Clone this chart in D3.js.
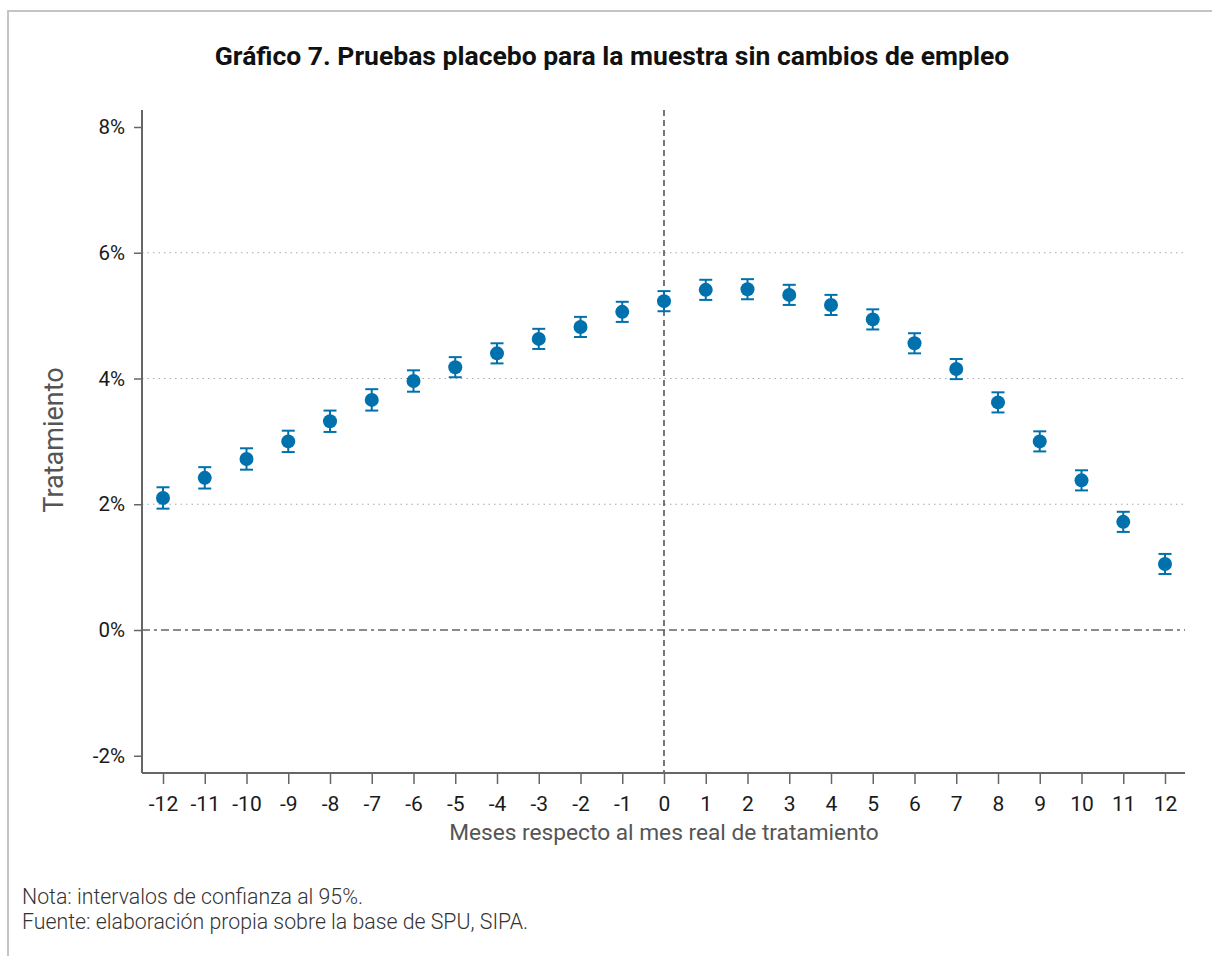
<!DOCTYPE html>
<html>
<head>
<meta charset="utf-8">
<style>
  body { margin: 0; background: #fff; }
  svg text { font-family: Roboto, sans-serif; }
</style>
</head>
<body>
<div id="chart"></div>
<script src="https://d3js.org/d3.v7.min.js"></script>
<script>
// months relative to the real treatment month
var months = [-12, -11, -10, -9, -8, -7, -6, -5, -4, -3, -2, -1, 0, 1, 2, 3, 4, 5, 6, 7, 8, 9, 10, 11, 12];
// point estimates (%)
var estimates = [2.10, 2.42, 2.72, 3.00, 3.32, 3.66, 3.96, 4.18, 4.40, 4.63, 4.82, 5.06, 5.23, 5.41, 5.42, 5.33, 5.17, 4.94, 4.56, 4.15, 3.62, 3.00, 2.38, 1.72, 1.05];
// 95% CI half-width (%)
var halfCI = [0.17, 0.17, 0.17, 0.17, 0.17, 0.17, 0.17, 0.16, 0.16, 0.16, 0.16, 0.16, 0.16, 0.16, 0.16, 0.16, 0.16, 0.16, 0.16, 0.16, 0.16, 0.16, 0.16, 0.16, 0.16];
var yTicks = [-2, 0, 2, 4, 6, 8];
var gridTicks = [2, 4, 6];

var W = 1212, H = 956;
var svg = d3.select("#chart").append("svg")
  .attr("width", W).attr("height", H);

// outer frame (top + left only)
svg.append("path")
  .attr("d", "M8,956 L8,11 L1212,11")
  .attr("fill", "none").attr("stroke", "#c4c4c4").attr("stroke-width", 2);

svg.append("text")
  .attr("x", 612).attr("y", 65)
  .attr("text-anchor", "middle")
  .attr("font-size", "26.5px").attr("font-weight", "bold").attr("fill", "#111")
  .text("Gráfico 7. Pruebas placebo para la muestra sin cambios de empleo");

var pLeft = 142, pRight = 1185, pTop = 110, pBottom = 773;

var x = d3.scaleLinear().domain([-12, 12]).range([163, 1165]);
var y = d3.scaleLinear().domain([0, 8]).range([630, 127]);

// gridlines
svg.selectAll(".grid").data(gridTicks).enter().append("line")
  .attr("x1", pLeft).attr("x2", pRight)
  .attr("y1", function(d){ return y(d); }).attr("y2", function(d){ return y(d); })
  .attr("stroke", "#aaa").attr("stroke-width", 1.2).attr("stroke-dasharray", "1.5,4");

// zero line
svg.append("line")
  .attr("x1", pLeft).attr("x2", pRight)
  .attr("y1", y(0)).attr("y2", y(0))
  .attr("stroke", "#666").attr("stroke-width", 1.6).attr("stroke-dasharray", "8,4,3,4,8,4");

// vertical line at month 0
svg.append("line")
  .attr("x1", x(0)).attr("x2", x(0))
  .attr("y1", pTop).attr("y2", pBottom)
  .attr("stroke", "#555").attr("stroke-width", 1.6).attr("stroke-dasharray", "6,4");

// y axis
var yAxis = d3.axisLeft(y).tickValues(yTicks).tickSize(8).tickPadding(9)
  .tickFormat(function(d){ return (d < 0 ? "-" + Math.abs(d) : d) + "%"; });
var gy = svg.append("g").attr("transform", "translate(" + pLeft + ",0)").call(yAxis);
gy.attr("font-family", null).attr("font-size", null);
gy.select(".domain").attr("d", "M0," + pTop + "V" + pBottom).attr("stroke", "#666").attr("stroke-width", 2);
gy.selectAll(".tick line").attr("stroke", "#666").attr("stroke-width", 1.5);
gy.selectAll(".tick text").attr("font-size", "20.5px").attr("fill", "#1a1a1a");

// x axis
var xAxis = d3.axisBottom(x).tickValues(months).tickSize(11).tickPadding(12)
  .tickFormat(function(d){ return d < 0 ? "-" + Math.abs(d) : String(d); });
var gx = svg.append("g").attr("transform", "translate(0," + pBottom + ")").call(xAxis);
gx.attr("font-family", null).attr("font-size", null);
gx.select(".domain").attr("d", "M" + pLeft + ",0H" + pRight).attr("stroke", "#666").attr("stroke-width", 2);
gx.selectAll(".tick line").attr("stroke", "#666").attr("stroke-width", 1.5);
gx.selectAll(".tick text").attr("font-size", "21px").attr("fill", "#1a1a1a");

// axis titles
svg.append("text")
  .attr("transform", "translate(63,440) rotate(-90)")
  .attr("text-anchor", "middle")
  .attr("font-size", "27px").attr("fill", "#555")
  .text("Tratamiento");

svg.append("text")
  .attr("x", 664).attr("y", 840)
  .attr("text-anchor", "middle")
  .attr("font-size", "22.7px").attr("fill", "#555")
  .text("Meses respecto al mes real de tratamiento");

// points with CI
var data = months.map(function(m, i){ return {m: m, v: estimates[i], h: halfCI[i]}; });
var col = "#0071ad";
var g = svg.selectAll(".pt").data(data).enter().append("g");
g.append("line")
  .attr("x1", function(d){ return x(d.m); }).attr("x2", function(d){ return x(d.m); })
  .attr("y1", function(d){ return y(d.v - d.h); }).attr("y2", function(d){ return y(d.v + d.h); })
  .attr("stroke", col).attr("stroke-width", 2);
[-1, 1].forEach(function(s){
  g.append("line")
    .attr("x1", function(d){ return x(d.m) - 6.5; }).attr("x2", function(d){ return x(d.m) + 6.5; })
    .attr("y1", function(d){ return y(d.v + s * d.h); }).attr("y2", function(d){ return y(d.v + s * d.h); })
    .attr("stroke", col).attr("stroke-width", 2);
});
g.append("circle")
  .attr("cx", function(d){ return x(d.m); })
  .attr("cy", function(d){ return y(d.v); })
  .attr("r", 7).attr("fill", col);

// notes
svg.append("text").attr("x", 22).attr("y", 904)
  .attr("font-size", "21.3px").attr("font-weight", 300).attr("fill", "#333")
  .text("Nota: intervalos de confianza al 95%.");
svg.append("text").attr("x", 22).attr("y", 929)
  .attr("font-size", "21.3px").attr("font-weight", 300).attr("fill", "#333")
  .text("Fuente: elaboración propia sobre la base de SPU, SIPA.");
</script>
</body>
</html>
